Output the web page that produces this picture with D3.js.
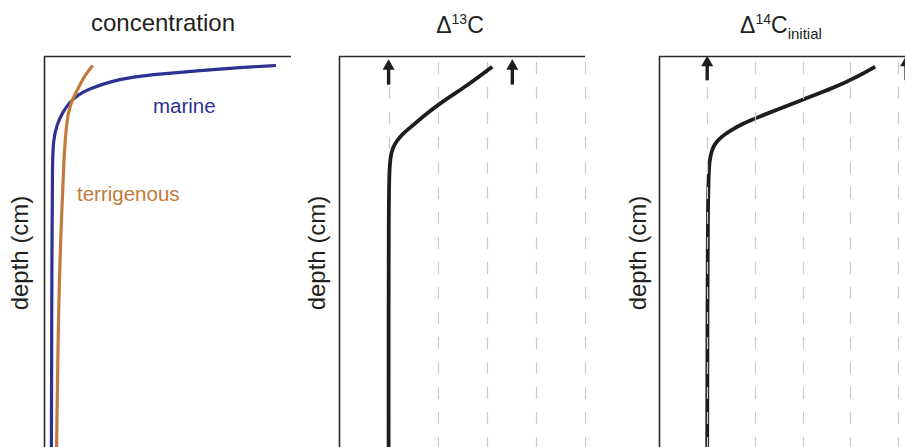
<!DOCTYPE html>
<html><head><meta charset="utf-8">
<script src="https://cdn.jsdelivr.net/npm/d3@7"></script>
<style>body{margin:0;background:#fff}svg{display:block}text{font-family:"Liberation Sans",Arial,sans-serif}</style>
</head><body><svg id="c" width="905" height="447"></svg>
<script>
// ---- data ----
const panelTitles = ["concentration", "Δ13C", "Δ14C initial"];
const depthLabel = "depth (cm)";
const seriesNames = ["marine", "terrigenous"];
// concentration panel: [concentration, depth]
const marine = [[93.9,2.3],[79.4,2.8],[63.2,3.6],[47.0,4.5],[36.0,5.2],[26.7,6.4],[18.6,8.2],[13.8,9.7],[10.5,11.5],[7.3,14.3],[4.9,17.6],[3.6,21.5],[3.2,26.6],[3.0,49.6],[2.8,100]];
const terrigenous = [[19.6,2.3],[17.0,4.3],[14.6,6.9],[12.6,9.5],[11.1,11.3],[9.7,14.3],[8.9,17.6],[7.9,25.3],[6.9,41.2],[5.7,62.4],[4.9,100]];
// Δ13C panel: [value, depth]
const d13C = [[3.11,2.6],[2.87,4.9],[2.60,7.4],[2.32,9.7],[2.05,12.0],[1.81,14.3],[1.59,16.6],[1.42,18.4],[1.28,19.9],[1.16,21.7],[1.08,23.5],[1.04,25.6],[1.02,28.6],[1.00,34.3],[1.00,100]];
// Δ14C initial panel: [value, depth]
const d14C = [[4.52,2.6],[4.16,5.1],[3.68,7.9],[3.01,11.0],[2.53,13.3],[2.05,15.6],[1.76,17.1],[1.49,18.9],[1.28,20.7],[1.15,22.5],[1.09,24.3],[1.05,26.6],[1.01,31.7],[1.00,100]];
const gridTicks = [1,2,3,4,5];
const arrows13 = [1, 3.52];
const arrows14 = [1, 5.17];

// ---- scales ----
const svg = d3.select("#c");
const y = d3.scaleLinear().domain([0,100]).range([56.5,447]);
const x1 = d3.scaleLinear().domain([0,100]).range([44.5,291]);
const x2 = d3.scaleLinear().domain([0,5]).range([339.5,585]);
const x3 = d3.scaleLinear().domain([0,5]).range([659.5,898]);

const frameCol = "#2b2b2b", curveCol = "#1f1c1d";
const blue = "#2e3192", orange = "#c27a3c";

const line = (xs) => d3.line().x(d=>xs(d[0])).y(d=>y(d[1])).curve(d3.curveBasis);

function frame(xs, right) {
  const [x0] = xs.range();
  svg.append("path").attr("d", `M${x0},447V${y(0)}H${right}`)
    .attr("fill","none").attr("stroke",frameCol).attr("stroke-width",1.6);
}
function grid(xs) {
  svg.append("g").selectAll("line").data(gridTicks).join("line")
    .attr("x1",d=>Math.round(xs(d))+0.5).attr("x2",d=>Math.round(xs(d))+0.5)
    .attr("y1",62).attr("y2",447)
    .attr("stroke","#c9c9c9").attr("stroke-width",1.2).attr("stroke-dasharray","12,13");
}
function arrowsDraw(xs, vals, tipD, baseD) {
  const g = svg.append("g");
  vals.forEach(v => {
    const cx = xs(v), t = y(tipD), b = y(baseD);
    g.append("line").attr("x1",cx).attr("x2",cx).attr("y1",t+6).attr("y2",b)
      .attr("stroke",curveCol).attr("stroke-width",3.4);
    g.append("path").attr("d",`M${cx},${t}L${cx-6},${t+10.5}L${cx+6},${t+10.5}Z`).attr("fill",curveCol);
  });
}

// panel 1
frame(x1, 291);
svg.append("path").datum(marine).attr("d", line(x1)).attr("fill","none").attr("stroke",blue).attr("stroke-width",3.2);
svg.append("path").datum(terrigenous).attr("d", line(x1)).attr("fill","none").attr("stroke",orange).attr("stroke-width",3.2);
svg.append("text").attr("x",153).attr("y",113).attr("fill",blue).attr("font-size",20.5).text(seriesNames[0]);
svg.append("text").attr("x",77).attr("y",201).attr("fill",orange).attr("font-size",20.5).text(seriesNames[1]);

// panel 2
grid(x2);
svg.append("path").datum(d13C).attr("d", line(x2)).attr("fill","none").attr("stroke",curveCol).attr("stroke-width",3.8);
frame(x2, 585);
arrowsDraw(x2, arrows13, 0.7, 7.2);

// panel 3
svg.append("path").datum(d14C).attr("d", line(x3)).attr("fill","none").attr("stroke",curveCol).attr("stroke-width",3.8);
grid(x3);
frame(x3, 905);
arrowsDraw(x3, arrows14, -0.2, 6.1);

// titles
svg.append("text").attr("x",163).attr("y",31).attr("text-anchor","middle").attr("font-size",24).attr("fill","#231f20").text(panelTitles[0]);
const t2 = svg.append("text").attr("x",460).attr("y",33).attr("text-anchor","middle").attr("font-size",23).attr("fill","#231f20");
t2.append("tspan").text("Δ");
t2.append("tspan").attr("font-size",14).attr("dy",-9).text("13");
t2.append("tspan").attr("dy",9).text("C");
const t3 = svg.append("text").attr("x",781).attr("y",33).attr("text-anchor","middle").attr("font-size",23).attr("fill","#231f20");
t3.append("tspan").text("Δ");
t3.append("tspan").attr("font-size",14).attr("dy",-9).text("14");
t3.append("tspan").attr("dy",9).text("C");
t3.append("tspan").attr("font-size",15).attr("dy",6).text("initial");

// depth labels
[28, 325, 646].forEach(bx => {
  svg.append("text").attr("transform",`translate(${bx},253) rotate(-90)`).attr("text-anchor","middle")
    .attr("font-size",24).attr("fill","#231f20").text(depthLabel);
});
</script></body></html>
